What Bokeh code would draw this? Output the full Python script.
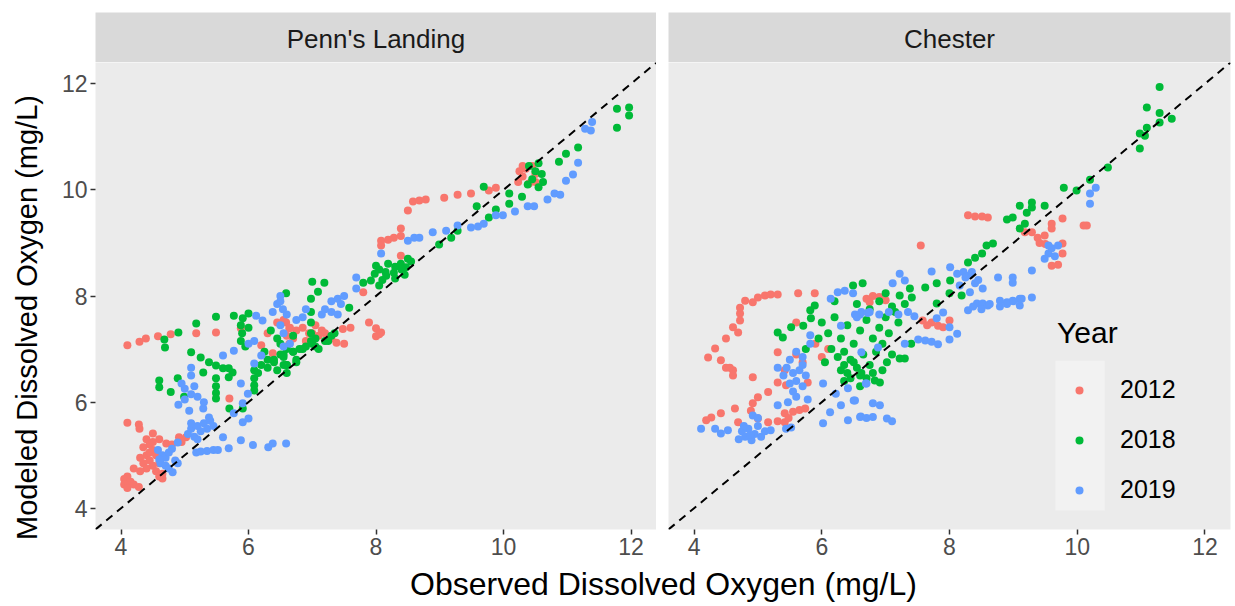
import math
from bokeh.plotting import figure
from bokeh.layouts import column, row
from bokeh.models import Slope, BoxAnnotation, Legend, LegendItem, Range1d, FixedTicker
from bokeh.core.properties import value
from bokeh.embed import file_html
from bokeh.resources import INLINE

FONT = "Liberation Sans"
years = ["2012", "2018", "2019"]
colors = ["#F8766D", "#00BA38", "#619CFF"]
ticks = [4, 6, 8, 10, 12]
panels = ["Penn's Landing", "Chester"]
x_title = "Observed Dissolved Oxygen (mg/L)"
y_title = "Modeled Dissolved Oxygen (mg/L)"

# ---------------- Penn's Landing ----------------
penn_2012 = [
    (4.10, 5.61), (4.28, 5.58), (4.29, 5.50), (4.50, 5.41), (4.40, 5.30), (4.45, 5.20), (4.35, 5.15),
    (4.50, 5.10), (4.55, 5.00), (4.40, 5.00), (4.30, 4.95), (4.45, 4.90), (4.60, 4.85), (4.35, 4.85),
    (4.50, 4.80), (4.40, 4.75), (4.55, 4.70), (4.65, 4.65), (4.30, 4.70), (4.20, 4.75), (4.10, 4.60),
    (4.05, 4.55), (4.15, 4.50), (4.05, 4.45), (4.20, 4.45), (4.10, 4.38), (4.28, 4.40), (4.65, 4.56),
    (4.60, 4.60), (4.71, 5.22), (4.91, 5.34), (5.02, 5.34), (4.95, 5.25), (4.80, 5.20), (4.45, 5.05),
    (4.60, 5.30), (4.50, 5.25), (4.62, 4.95),
    (4.10, 7.07), (4.29, 7.14), (4.39, 7.20), (4.58, 7.24), (4.78, 7.28), (5.18, 7.30), (5.49, 7.31),
    (5.70, 6.07), (5.88, 7.39), (6.59, 7.50), (6.64, 7.39), (6.20, 7.07), (6.38, 6.92), (6.64, 7.10),
    (6.55, 7.55), (6.65, 7.40), (6.75, 7.35), (6.85, 7.40), (6.95, 7.30), (7.05, 7.45), (7.15, 7.35),
    (6.60, 7.25), (6.70, 7.20), (6.90, 7.15), (6.45, 7.50), (6.30, 7.30), (7.00, 7.30), (7.10, 7.25),
    (7.20, 7.30), (7.48, 7.38), (7.60, 7.40), (7.38, 7.12), (7.50, 7.10), (7.30, 7.20),
    (7.89, 7.50), (8.00, 7.39), (8.08, 7.31), (8.00, 7.24), (8.05, 7.28), (7.80, 8.07), (8.39, 8.76),
    (8.50, 9.61), (8.58, 9.78), (8.68, 9.80), (8.78, 9.82), (9.07, 9.85), (9.28, 9.91), (9.49, 9.93),
    (8.39, 9.27), (8.08, 9.04), (8.19, 9.06), (8.28, 9.10), (8.39, 9.13), (8.08, 8.95),
    (9.77, 9.99), (9.88, 10.04), (10.23, 10.15), (10.30, 10.25), (10.35, 10.40), (10.45, 10.45),
    (10.50, 10.30), (10.30, 10.45), (10.25, 10.35), (10.40, 10.12), (10.50, 10.15),
]
penn_2018 = [
    (4.68, 7.18), (4.69, 7.03), (4.90, 7.31), (5.18, 7.48), (5.49, 7.61), (5.77, 7.63), (5.91, 7.58),
    (6.00, 7.67), (5.88, 7.45), (5.90, 7.30), (5.88, 7.15), (5.95, 7.05), (6.00, 7.40), (5.10, 6.94),
    (5.25, 6.84), (5.38, 6.75), (5.49, 6.69), (5.60, 6.64), (5.69, 6.64), (5.75, 6.56), (5.69, 6.47),
    (5.29, 6.56), (5.49, 6.45), (5.49, 6.30), (5.49, 6.17), (5.49, 6.07), (4.60, 6.41), (4.60, 6.28),
    (4.89, 6.45), (4.78, 6.19), (4.99, 6.10), (6.09, 6.60), (6.09, 6.45), (6.09, 6.32), (6.09, 6.22),
    (6.59, 8.05), (5.70, 5.88), (5.91, 5.88),
    (6.20, 6.70), (6.30, 6.80), (6.40, 6.75), (6.50, 6.90), (6.60, 7.00), (6.55, 6.85), (6.70, 6.95),
    (6.80, 7.00), (6.90, 7.05), (6.45, 7.20), (6.35, 7.35), (6.50, 7.10), (6.30, 6.65), (6.15, 6.55),
    (6.60, 6.70), (6.75, 6.75), (6.70, 7.25), (7.00, 7.10), (7.10, 7.00), (7.05, 7.20), (7.20, 7.15),
    (7.30, 7.25), (7.35, 7.30), (7.00, 8.27), (7.19, 8.25), (7.09, 8.08), (7.58, 7.78), (6.98, 7.95),
    (6.98, 7.70), (6.98, 7.50), (6.98, 7.30), (6.98, 7.15), (6.55, 6.90), (6.60, 6.70), (6.75, 6.80),
    (6.70, 6.95), (6.85, 7.00), (7.05, 7.05), (7.25, 7.15), (6.25, 6.95), (6.40, 6.80), (6.55, 6.70),
    (6.60, 6.55), (6.45, 6.60),
    (7.80, 8.25), (7.92, 8.29), (8.05, 8.20), (8.16, 8.38), (8.28, 8.44), (8.00, 8.57), (8.19, 8.61),
    (8.39, 8.61), (8.50, 8.70), (8.47, 8.54), (8.55, 8.65), (7.98, 8.42), (8.05, 8.50), (8.15, 8.45),
    (8.30, 8.55), (8.40, 8.50), (8.45, 8.40), (8.30, 8.33), (8.10, 8.30),
    (8.99, 8.97), (9.18, 9.10), (9.28, 9.23), (9.58, 9.69), (9.69, 10.06), (9.88, 9.63), (9.77, 9.48),
    (10.09, 9.93), (10.29, 9.87), (10.09, 9.74), (10.38, 10.10), (10.45, 10.20), (10.50, 10.35),
    (10.55, 10.50), (10.60, 10.30), (10.62, 10.15), (10.55, 10.05), (10.40, 10.45), (10.87, 10.53),
    (10.98, 10.68), (11.17, 10.80), (11.78, 11.53), (11.97, 11.55), (11.97, 11.40), (11.78, 11.17),
]
penn_2019 = [
    (4.58, 5.10), (4.65, 5.00), (4.70, 4.95), (4.75, 5.05), (4.80, 5.12), (4.62, 4.85), (4.70, 4.80),
    (4.85, 4.90), (4.89, 5.24), (4.89, 4.85), (4.81, 4.68), (4.60, 4.92), (4.75, 4.75),
    (5.05, 5.40), (5.10, 5.50), (5.15, 5.35), (5.20, 5.55), (5.25, 5.45), (5.30, 5.60), (5.35, 5.50),
    (5.40, 5.65), (5.45, 5.55), (5.20, 5.30), (5.10, 5.60), (5.07, 5.84), (5.29, 5.88), (5.38, 5.71),
    (5.60, 5.34), (5.18, 5.05), (5.25, 5.07), (5.35, 5.08), (5.45, 5.10), (5.52, 5.10), (5.69, 5.13),
    (5.88, 5.28), (6.07, 5.19), (6.31, 5.15), (6.38, 5.22), (6.59, 5.22), (5.91, 5.62), (6.00, 5.69),
    (5.77, 5.79), (5.91, 5.98),
    (4.90, 5.95), (5.00, 6.05), (5.10, 6.15), (5.20, 6.10), (5.30, 6.00), (5.00, 6.25), (5.15, 6.30),
    (4.95, 6.35), (5.10, 6.65), (5.10, 6.50), (5.60, 6.88), (5.77, 6.97), (5.88, 6.35), (5.99, 6.16),
    (6.00, 7.10), (6.09, 7.15), (6.20, 6.88), (6.09, 6.73), (6.38, 7.70), (6.45, 7.85),
    (6.50, 8.00), (6.54, 7.75), (6.12, 7.63), (6.22, 7.54),
    (7.30, 7.90), (7.40, 7.95), (7.50, 8.00), (7.45, 7.85), (7.20, 7.75), (7.30, 7.70), (7.15, 7.65),
    (7.40, 7.65), (6.50, 7.45), (6.55, 7.30), (6.60, 7.65), (6.75, 7.55), (6.85, 7.60), (6.90, 7.75),
    (6.65, 7.10), (6.55, 7.05), (6.50, 7.90),
    (7.69, 8.35), (7.69, 8.14), (8.08, 8.80), (8.50, 9.04), (8.60, 9.10), (8.68, 9.10),
    (8.89, 9.20), (9.10, 9.23), (9.28, 9.33), (9.49, 9.29), (9.60, 9.31), (9.69, 9.36), (9.88, 9.52),
    (9.99, 9.52), (10.18, 9.59), (10.38, 9.69), (10.48, 9.69), (10.69, 9.82), (10.80, 9.93),
    (10.89, 9.91), (10.98, 10.17), (11.09, 10.29), (11.17, 10.51), (11.28, 11.15), (11.37, 11.12),
    (11.39, 11.28),
]

# ---------------- Chester ----------------
chester_2012 = [
    (4.22, 6.84), (4.33, 7.01), (4.42, 6.79), (4.50, 7.20), (4.61, 7.41), (4.69, 7.31), (4.72, 7.54),
    (4.72, 7.67), (4.72, 7.78), (4.80, 7.91), (4.92, 7.88), (5.00, 7.97), (5.11, 8.01), (5.20, 8.03),
    (5.31, 8.03), (5.63, 8.05), (5.89, 8.05), (4.50, 6.65), (4.61, 6.60), (4.56, 6.65), (4.61, 6.50),
    (4.92, 6.47), (5.31, 6.37), (5.44, 6.32), (5.16, 6.19), (5.00, 6.09), (4.92, 5.98), (4.89, 5.84),
    (4.64, 5.88), (4.42, 5.79), (4.27, 5.71), (4.19, 5.66), (4.69, 5.62), (5.00, 5.69), (5.16, 5.62),
    (5.31, 5.64), (5.42, 5.79), (5.55, 5.82), (5.65, 5.85), (5.74, 5.88), (5.42, 5.62), (5.48, 5.70),
    (5.78, 6.37), (5.42, 6.60), (5.31, 6.94), (5.60, 7.50),
    (5.60, 6.90), (5.70, 6.75), (5.90, 7.10), (6.00, 6.85), (6.10, 7.00),
    (6.70, 7.95), (6.80, 8.00), (6.90, 7.98), (7.00, 7.92), (6.75, 7.88), (7.55, 8.95),
    (7.58, 7.54), (7.72, 7.50), (7.82, 7.44), (7.90, 7.41), (8.00, 7.54), (7.65, 7.45),
    (8.29, 9.52), (8.40, 9.50), (8.51, 9.50), (8.60, 9.48), (9.18, 9.20), (9.29, 9.20), (9.38, 9.10),
    (9.49, 9.14), (9.41, 9.00), (9.50, 8.98), (9.77, 9.46), (9.60, 9.36), (9.60, 9.27), (9.77, 8.99),
    (9.77, 8.80), (9.60, 8.57), (9.70, 8.59), (10.10, 9.33), (10.15, 9.33),
]
chester_2018 = [
    (11.29, 11.94), (11.09, 11.55), (11.29, 11.45), (11.29, 11.27), (11.48, 11.34), (11.09, 11.17),
    (10.98, 11.06), (11.06, 11.02), (10.98, 10.78), (10.48, 10.42), (10.20, 10.19), (9.99, 9.99),
    (9.79, 10.04), (9.49, 9.70), (9.29, 9.76), (9.29, 9.67), (9.21, 9.57), (9.10, 9.70), (8.99, 9.48),
    (8.90, 9.44), (9.10, 9.27), (9.18, 9.36), (8.68, 8.99), (8.58, 8.95), (8.51, 8.80), (8.40, 8.72),
    (8.29, 8.63), (8.19, 8.01),
    (7.62, 8.16), (7.80, 8.24), (8.01, 8.29), (8.00, 8.05), (7.80, 7.86), (7.38, 8.14), (7.41, 7.97),
    (7.22, 8.01), (7.22, 6.82), (7.30, 6.82), (7.02, 6.75), (6.83, 6.41), (6.91, 6.37),
    (5.31, 7.31), (5.39, 7.22), (5.52, 7.41), (5.71, 7.44), (5.82, 7.73), (5.89, 7.82), (5.83, 7.58),
    (6.49, 8.20), (6.64, 8.24),
    (6.00, 7.50), (6.10, 7.30), (6.20, 7.60), (6.30, 7.20), (6.40, 7.45), (6.50, 7.10), (6.60, 7.35),
    (6.70, 7.55), (6.80, 7.20), (6.90, 7.40), (7.00, 7.60), (7.10, 7.80), (7.20, 7.50), (6.15, 7.00),
    (6.25, 6.85), (6.35, 6.95), (6.45, 6.80), (6.55, 6.65), (6.65, 6.90), (6.75, 6.70), (6.85, 6.95),
    (6.95, 7.10), (7.05, 7.30), (6.40, 6.55), (6.60, 6.50), (6.30, 6.60), (6.70, 6.45), (6.20, 7.90),
    (6.90, 7.90), (7.00, 8.05), (7.15, 7.70), (7.30, 7.85), (6.55, 7.85), (6.75, 7.75), (5.95, 7.20),
    (5.75, 7.00), (6.05, 6.75), (6.35, 6.40), (6.60, 6.30), (6.80, 6.55), (6.95, 6.60), (7.10, 6.90),
    (7.40, 7.10), (6.35, 6.70), (6.50, 6.75), (6.62, 6.55), (6.45, 6.45),
]
chester_2019 = [
    (4.11, 5.50), (4.33, 5.50), (4.42, 5.41), (4.53, 5.47), (4.70, 5.30), (4.75, 5.45), (4.80, 5.35),
    (4.85, 5.50), (4.90, 5.28), (4.95, 5.40), (5.00, 5.55), (5.05, 5.35), (5.11, 5.45), (4.78, 5.55),
    (4.88, 5.38), (5.20, 5.47), (5.44, 5.50), (5.52, 5.52), (4.92, 5.75), (5.00, 5.70), (5.31, 5.94),
    (5.47, 6.00), (5.55, 6.20), (5.60, 6.40), (5.65, 6.60), (5.70, 6.30), (5.75, 6.50), (5.55, 6.55),
    (5.60, 6.10), (5.70, 6.70), (5.78, 6.05), (5.50, 6.35), (5.31, 6.65),
    (6.02, 6.35), (6.22, 6.16), (6.41, 6.26), (6.13, 5.81), (6.30, 5.94), (6.50, 6.03), (6.69, 6.35),
    (6.02, 5.60), (6.41, 5.66), (6.61, 5.73),
    (5.40, 6.50), (5.50, 6.80), (5.60, 6.95), (5.70, 6.85), (5.45, 6.65), (5.82, 7.26), (5.82, 7.10),
    (6.14, 7.95), (6.25, 8.07), (6.36, 8.10), (6.49, 8.05), (6.30, 7.44), (6.52, 7.65), (6.62, 7.70),
    (6.72, 7.68),
    (8.01, 8.54), (8.12, 8.42), (8.22, 8.45), (8.32, 8.39), (8.40, 8.24), (7.72, 8.46), (7.22, 8.42),
    (7.11, 8.24), (7.30, 8.29), (8.29, 7.73), (8.43, 7.86), (8.52, 7.86), (8.60, 7.82), (8.79, 7.91),
    (8.90, 7.88), (8.99, 7.91), (9.10, 7.95), (9.10, 7.82), (9.29, 7.97), (8.76, 8.35), (8.99, 8.35),
    (8.99, 8.25), (9.29, 8.48), (8.52, 8.14), (7.90, 7.69), (7.80, 7.58), (8.00, 7.41), (8.00, 7.18),
    (8.12, 7.29), (7.51, 7.18), (7.62, 7.16), (7.72, 7.14), (7.82, 7.09), (7.30, 7.10),
    (6.60, 7.65), (6.75, 7.70), (6.90, 7.65), (7.05, 7.70), (7.20, 7.65), (7.35, 7.70), (7.45, 7.62),
    (6.55, 7.60), (6.70, 6.35), (6.52, 6.03), (6.80, 5.98), (6.91, 5.94), (6.60, 5.72), (6.70, 5.70),
    (6.80, 5.72), (7.02, 5.69), (7.10, 5.64), (6.88, 7.03), (6.62, 6.94),
    (9.49, 8.70), (9.55, 8.80), (9.60, 8.90), (9.65, 8.75), (9.70, 8.95), (9.55, 8.95), (10.29, 10.04),
    (10.20, 9.93), (10.20, 9.74), (8.16, 8.20), (8.25, 8.35), (8.35, 8.45), (8.45, 8.30), (8.32, 8.07),
    (8.37, 7.80), (8.50, 7.75), (8.63, 7.85), (8.79, 7.80), (8.90, 7.85), (9.00, 7.90), (9.13, 7.95),
]

series = {
    panels[0]: [penn_2012, penn_2018, penn_2019],
    panels[1]: [chester_2012, chester_2018, chester_2019],
}

FRAME_H = 467
BOTTOM = 37
STRIP_TOP = 12
STRIP_H = 50
TOTAL_H = 605
YT_W = 50                      # width of the column holding the y-axis title
LEFT_B, LEFT_FRAME = 95 - YT_W, 561
RIGHT_B, RIGHT_FRAME, RIGHT_R = 12, 562, 3
LEFT_W = LEFT_B + LEFT_FRAME
RIGHT_W = RIGHT_B + RIGHT_FRAME + RIGHT_R
UPPER_H = STRIP_TOP + STRIP_H + FRAME_H + BOTTOM


def style_axes(p):
    p.xaxis.ticker = FixedTicker(ticks=ticks)
    p.yaxis.ticker = FixedTicker(ticks=ticks)
    for ax in p.axis:
        ax.axis_line_color = None
        ax.major_tick_line_color = "#333333"
        ax.major_tick_line_width = 1.5
        ax.major_tick_out = 5
        ax.major_tick_in = 0
        ax.minor_tick_line_color = None
        ax.major_label_text_color = "#4D4D4D"
        ax.major_label_text_font = FONT
        ax.major_label_text_font_size = "23px"
        ax.major_label_standoff = 3


def main_fig(width, lb, rb, show_y):
    p = figure(width=width, height=FRAME_H + BOTTOM,
               x_range=Range1d(3.6, 12.4), y_range=Range1d(3.6, 12.4),
               output_backend="svg", toolbar_location=None,
               y_axis_location="left" if show_y else None,
               min_border_left=lb, min_border_right=rb, min_border_top=0, min_border_bottom=BOTTOM)
    p.background_fill_color = "#EBEBEB"
    p.border_fill_color = "white"
    p.outline_line_color = None
    p.grid.visible = False
    style_axes(p)
    return p


def strip_fig(label, width, lb, rb):
    s = figure(width=width, height=STRIP_H + STRIP_TOP, x_range=Range1d(0, 1), y_range=Range1d(0, 1),
               output_backend="svg", toolbar_location=None,
               x_axis_location=None, y_axis_location=None,
               min_border_left=lb, min_border_right=rb, min_border_top=STRIP_TOP, min_border_bottom=0)
    s.background_fill_color = "#D9D9D9"
    s.border_fill_color = "white"
    s.outline_line_color = None
    s.grid.visible = False
    s.text(x=[0.5], y=[0.47], text=[label], text_align="center", text_baseline="middle",
           text_font=value(FONT), text_font_size="26px", text_color="#1A1A1A")
    return s


def text_fig(width, height):
    f = figure(width=width, height=height, x_range=Range1d(0, width), y_range=Range1d(0, height),
               output_backend="svg", toolbar_location=None,
               x_axis_location=None, y_axis_location=None,
               min_border_left=0, min_border_right=0, min_border_top=0, min_border_bottom=0)
    f.outline_line_color = None
    f.background_fill_color = "white"
    f.border_fill_color = "white"
    f.grid.visible = False
    return f


p1 = main_fig(LEFT_W, LEFT_B, 0, True)
p2 = main_fig(RIGHT_W, RIGHT_B, RIGHT_R, False)

renderers = {}
for p, name in ((p1, panels[0]), (p2, panels[1])):
    for yr, col, pts in zip(years, colors, series[name]):
        xs = [a for a, b in pts]
        ys = [b for a, b in pts]
        r = p.scatter(xs, ys, size=8, fill_color=col, line_color=None)
        if p is p2:
            renderers[yr] = r
    p.add_layout(Slope(gradient=1, y_intercept=0, line_color="black", line_width=2, line_dash="8 6"))

# legend key background (inside the Chester panel)
p2.add_layout(BoxAnnotation(left=9.66, right=10.43, bottom=3.96, top=6.78,
                            fill_color="#F2F2F2", fill_alpha=1, line_color=None))
legend = Legend(items=[LegendItem(label=yr, renderers=[renderers[yr]]) for yr in years],
                location=(389, 25), title="Year",
                title_text_font=FONT, title_text_font_size="30px", title_text_font_style="normal",
                title_text_color="black", title_standoff=25,
                label_text_font=FONT, label_text_font_size="25px", label_text_color="black",
                glyph_width=44, glyph_height=20, label_height=20, label_standoff=19,
                spacing=21, padding=0, margin=0, border_line_color=None,
                background_fill_alpha=0)
p2.add_layout(legend)

s1 = strip_fig(panels[0], LEFT_W, LEFT_B, 0)
s2 = strip_fig(panels[1], RIGHT_W, RIGHT_B, RIGHT_R)

# y-axis title column
yt = text_fig(YT_W, UPPER_H)
yt.text(x=[26], y=[UPPER_H - 317], text=[y_title], angle=math.pi / 2, text_align="center",
        text_baseline="middle", text_font=value(FONT), text_font_size="29px", text_color="black")

# x-axis title row
TOTAL_W = YT_W + LEFT_W + RIGHT_W
TITLE_H = TOTAL_H - UPPER_H
t = text_fig(TOTAL_W, TITLE_H)
t.text(x=[663], y=[22], text=[x_title], text_align="center",
       text_baseline="middle", text_font=value(FONT), text_font_size="32px", text_color="black")

upper = row(yt, column(row(s1, s2), row(p1, p2)))
layout = column(upper, t)
open("out.html", "w").write(file_html(layout, INLINE))
